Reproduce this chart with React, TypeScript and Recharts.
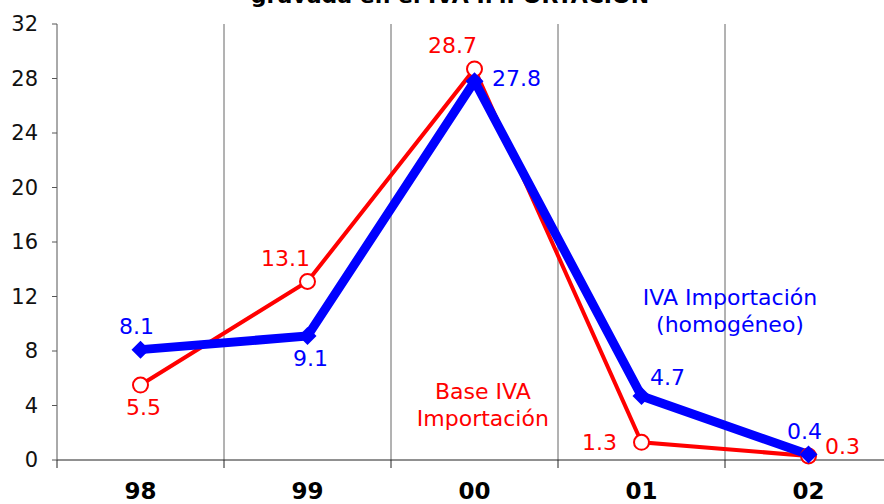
import * as React from "react"
import { LineChart, Line, XAxis, YAxis, ReferenceLine, ReferenceDot, LabelList } from "recharts"

const years = ["98", "99", "00", "01", "02"]
const baseIva = [5.5, 13.1, 28.7, 1.3, 0.3]
const ivaHomogeneo = [8.1, 9.1, 27.8, 4.7, 0.4]
const yTicks = [0, 4, 8, 12, 16, 20, 24, 28, 32]

// where each value label sits around its point
const redPlaces = ["bottom", "topLeft", "topLeft", "left", "rightUp"]
const bluePlaces = ["top", "bottom", "right", "topRight", "top"]

const data = years.map((y, i) => ({ x: i + 0.5, year: y, base: baseIva[i], homog: ivaHomogeneo[i] }))

const FONT = "DejaVu Sans, Verdana, sans-serif"
const RED = "#ff0000"
const BLUE = "#0000ff"

const offsets: Record<string, [number, number]> = {
  top: [-4, -23],
  bottom: [3, 22],
  left: [-42, 0],
  right: [42, -3],
  rightUp: [34, -9],
  topLeft: [-22, -23],
  topRight: [26, -18],
}

const makeLabel = (places: string[], color: string) => (props: any) => {
  const { x, y, value, index } = props
  const [dx, dy] = offsets[places[index]] || [0, 0]
  return (
    <text x={x + dx} y={y + dy} fill={color} fontSize={22} fontFamily={FONT} textAnchor="middle" dominantBaseline="central">
      {value.toFixed(1)}
    </text>
  )
}

const XTick = (props: any) => {
  const { x, y, payload } = props
  const v = payload.value
  if (Number.isInteger(v)) {
    return <line x1={x} x2={x} y1={y} y2={y + 8} stroke="#222" strokeWidth={1} />
  }
  return (
    <text x={x} y={y + 31} fontSize={23} fontWeight="bold" fontFamily={FONT} fill="#000" textAnchor="middle" dominantBaseline="central">
      {years[Math.floor(v)]}
    </text>
  )
}

const Diamond = (props: any) => {
  const { cx, cy } = props
  if (cx == null || cy == null) return null
  const r = 9
  return <path d={`M${cx},${cy - r}L${cx + r},${cy}L${cx},${cy + r}L${cx - r},${cy}Z`} fill={BLUE} />
}

const textShape = (lines: string[], color: string) => (props: any) => (
  <text x={props.cx} y={props.cy} fill={color} fontSize={22} fontFamily={FONT} textAnchor="middle" dominantBaseline="central">
    {lines.map((l, i) => (
      <tspan key={i} x={props.cx} dy={i === 0 ? 0 : 27}>
        {l}
      </tspan>
    ))}
  </text>
)

export default function App() {
  return (
    <div style={{ position: "absolute", left: 0, top: 0, width: 884, height: 504, overflow: "hidden", background: "#fff" }}>
      <div style={{ position: "absolute", left: 0, top: -17, width: 900, textAlign: "center", fontFamily: FONT, fontWeight: "bold", fontSize: 22 }}>
        gravada en el IVA IMPORTACIÓN
      </div>
      <LineChart width={900} height={504} data={data} margin={{ top: 24, right: 8, left: 0, bottom: 0 }}>
        <XAxis
          dataKey="x"
          type="number"
          domain={[0, 5]}
          ticks={[0, 0.5, 1, 1.5, 2, 2.5, 3, 3.5, 4, 4.5, 5]}
          interval={0}
          height={44}
          tickLine={false}
          tickSize={0}
          tickMargin={0}
          tick={<XTick />}
          axisLine={{ stroke: "#222" }}
        />
        <YAxis
          domain={[0, 32]}
          ticks={yTicks}
          width={57}
          tickSize={5}
          tickMargin={14}
          tick={{ fontSize: 21, fontFamily: FONT, fill: "#111" }}
          tickLine={{ stroke: "#555" }}
          axisLine={{ stroke: "#555" }}
        />
        {[1, 2, 3, 4].map((v) => (
          <ReferenceLine key={v} x={v} stroke="#666" strokeWidth={1} />
        ))}
        <ReferenceDot x={4.03} y={12} r={0} shape={textShape(["IVA Importación", "(homogéneo)"], BLUE)} />
        <ReferenceDot x={2.55} y={5.1} r={0} shape={textShape(["Base IVA", "Importación"], RED)} />
        <Line
          dataKey="base"
          stroke={RED}
          strokeWidth={4}
          dot={{ r: 7.5, fill: "#fff", stroke: RED, strokeWidth: 2 }}
          isAnimationActive={false}
        >
          <LabelList dataKey="base" content={makeLabel(redPlaces, RED)} />
        </Line>
        <Line dataKey="homog" stroke={BLUE} strokeWidth={9} dot={<Diamond />} isAnimationActive={false}>
          <LabelList dataKey="homog" content={makeLabel(bluePlaces, BLUE)} />
        </Line>
      </LineChart>
    </div>
  )
}
